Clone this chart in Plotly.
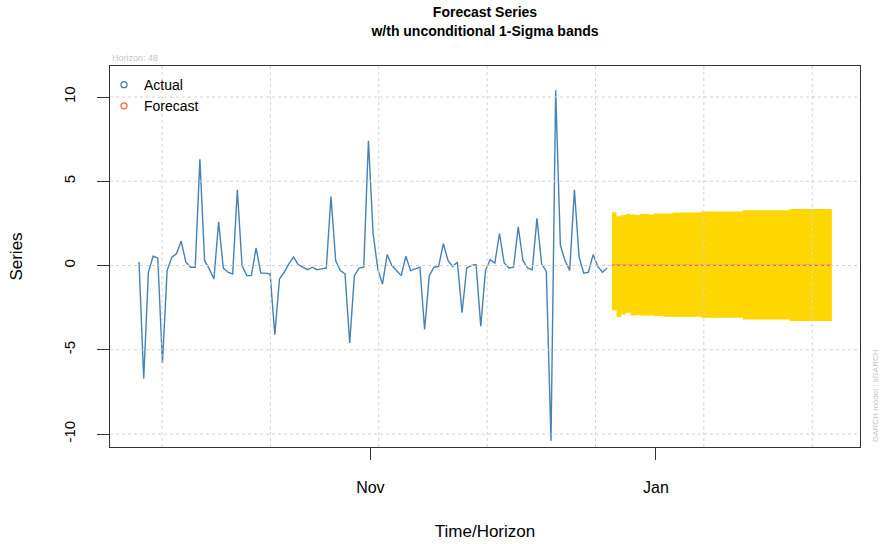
import pandas as pd
import plotly.graph_objects as go

# ---------------- data ----------------
actual_start = "2019-09-12 14:00"
actual_values = [
    0.2, -6.7, -0.4, 0.55, 0.45, -5.8, -0.3, 0.5, 0.7, 1.45,
    0.2, -0.1, -0.1, 6.3, 0.3, -0.2, -0.8, 2.6, -0.15, -0.4,
    -0.5, 4.5, 0.0, -0.6, -0.6, 1.05, -0.45, -0.45, -0.5, -4.1,
    -0.8, -0.4, 0.1, 0.5, 0.05, -0.1, -0.25, -0.1, -0.25, -0.2,
    -0.15, 4.1, 0.3, -0.3, -0.5, -4.6, -0.6, -0.15, -0.1, 7.4,
    1.9, -0.2, -1.1, 0.65, 0.0, -0.3, -0.6, 0.55, -0.3, -0.2,
    -0.1, -3.8, -0.6, -0.1, -0.05, 1.3, 0.3, -0.05, 0.2, -2.8,
    -0.15, 0.0, 0.05, -3.6, -0.3, 0.35, 0.15, 1.9, 0.15, -0.15,
    -0.1, 2.3, 0.3, -0.15, -0.25, 2.8, 0.1, -0.35, -10.4, 10.4,
    1.2, 0.3, -0.3, 4.5, 0.5, -0.45, -0.4, 0.65, -0.05, -0.4,
    -0.15,
]
forecast_mean = [
    0.02, 0.01, 0.01, 0.02, 0.01, 0.01, 0.01, 0.01, 0.01, 0.01,
    0.01, 0.01, 0.01, 0.01, 0.01, 0.01, 0.01, 0.01, 0.01, 0.01,
    0.01, 0.01, 0.01, 0.01, 0.01, 0.01, 0.01, 0.01, 0.01, 0.01,
    0.01, 0.01, 0.01, 0.01, 0.01, 0.01, 0.01, 0.01, 0.01, 0.01,
    0.01, 0.01, 0.01, 0.01, 0.01, 0.01, 0.01, 0.01,
]
band_upper = [
    3.16, 2.92, 3.0, 3.06, 3.03, 3.0, 3.06, 3.06, 3.03,
    3.08, 3.08, 3.08, 3.08,
    3.14, 3.14, 3.14, 3.14, 3.14, 3.14,
    3.2, 3.2, 3.2, 3.2, 3.2, 3.2, 3.2, 3.2, 3.2,
    3.28, 3.28, 3.28, 3.28, 3.28, 3.28, 3.28, 3.28, 3.28, 3.28,
    3.36, 3.36, 3.36, 3.36, 3.36, 3.36, 3.36, 3.36, 3.36, 3.36,
]
band_lower = [
    -2.65, -3.06, -2.9, -2.8, -2.97, -2.93,
    -2.97, -2.97, -2.97,
    -3.0, -3.0,
    -3.04, -3.04, -3.04, -3.04, -3.04, -3.04, -3.04, -3.04,
    -3.1, -3.1, -3.1, -3.1, -3.1, -3.1, -3.1, -3.1, -3.1,
    -3.2, -3.2, -3.2, -3.2, -3.2, -3.2, -3.2, -3.2, -3.2, -3.2,
    -3.3, -3.3, -3.3, -3.3, -3.3, -3.3, -3.3, -3.3, -3.3, -3.3,
]
x_tick_dates = ["2019-11-01", "2020-01-01"]
x_tick_labels = ["Nov", "Jan"]
y_tick_values = [-10, -5, 0, 5, 10]
horizon = 48

# ---------------- derived ----------------
actual_dates = pd.date_range(actual_start, periods=len(actual_values), freq="D")
forecast_dates = pd.date_range(actual_dates[-1] + pd.Timedelta(days=1),
                               periods=len(forecast_mean), freq="D")
# R grid(): pretty steps of 2e6 seconds on the POSIXct axis
x_grid = pd.date_range("2019-09-17 11:48", periods=7, freq="2000000s")

FONT = "Liberation Sans, Arial, sans-serif"
GRID = "#D3D3D3"
AXIS = "#333333"

fig = go.Figure()

fig.add_trace(go.Scatter(x=forecast_dates, y=band_lower, mode="lines",
                         line=dict(width=0, shape="hv", color="#FFD700"),
                         showlegend=False, hoverinfo="skip"))
fig.add_trace(go.Scatter(x=forecast_dates, y=band_upper, mode="lines",
                         line=dict(width=0, shape="hv", color="#FFD700"),
                         fill="tonexty", fillcolor="#FFD700",
                         showlegend=False, hoverinfo="skip"))
fig.add_trace(go.Scatter(x=actual_dates, y=actual_values, mode="lines",
                         line=dict(color="steelblue", width=1.4),
                         showlegend=False))
fig.add_trace(go.Scatter(x=forecast_dates, y=forecast_mean, mode="lines",
                         line=dict(color="#FF6347", width=1.2),
                         showlegend=False))
# legend entries (open circles as in base R legend)
fig.add_trace(go.Scatter(x=[None], y=[None], mode="markers", name="Actual",
                         marker=dict(symbol="circle-open", size=6,
                                     color="steelblue", line=dict(width=1.3))))
fig.add_trace(go.Scatter(x=[None], y=[None], mode="markers", name="Forecast",
                         marker=dict(symbol="circle-open", size=6,
                                     color="#FF6347", line=dict(width=1.3))))

shapes = []
for d in x_grid:
    shapes.append(dict(type="line", xref="x", yref="paper", x0=d, x1=d,
                       y0=0, y1=1, layer="above",
                       line=dict(color=GRID, width=1, dash="dot")))
for v in y_tick_values:
    shapes.append(dict(type="line", xref="paper", yref="y", x0=0, x1=1,
                       y0=v, y1=v, layer="above",
                       line=dict(color=GRID, width=1, dash="dot")))

fig.update_layout(
    width=882, height=544,
    margin=dict(l=110, r=22, t=66, b=97),
    paper_bgcolor="white", plot_bgcolor="white",
    font=dict(family=FONT, color="black"),
    title=dict(text="<b>Forecast Series</b><br><b>w/th unconditional 1-Sigma bands</b>",
               x=0.5, xref="paper", xanchor="center",
               y=0.968, yref="container", yanchor="top",
               font=dict(size=14, family=FONT, color="black")),
    shapes=shapes,
    showlegend=True,
    legend=dict(x=-0.008, y=0.992, xanchor="left", yanchor="top",
                bgcolor="rgba(0,0,0,0)", font=dict(size=14, family=FONT),
                traceorder="normal", itemwidth=30, tracegroupgap=0),
    annotations=[
        dict(text=f"Horizon: {horizon}", xref="paper", yref="paper",
             x=0, y=1, xanchor="left", yanchor="bottom", yshift=1,
             showarrow=False, font=dict(size=9, color="#C4C4C4", family=FONT)),
        dict(text="GARCH model : sGARCH", xref="paper", yref="paper",
             x=1.0213, y=0.1365, xanchor="center", yanchor="middle",
             textangle=-90, showarrow=False,
             font=dict(size=8, color="#C4C4C4", family=FONT)),
    ],
)

fig.update_xaxes(
    type="date", range=["2019-09-06 09:07", "2020-02-13 14:10"],
    automargin=False,
    tickmode="array", tickvals=x_tick_dates, ticktext=x_tick_labels,
    ticks="outside", ticklen=12, tickwidth=1, tickcolor=AXIS,
    showline=True, linecolor=AXIS, linewidth=1, mirror=True,
    showgrid=False, zeroline=False,
    tickfont=dict(size=16, family=FONT, color="black"),
    ticklabelstandoff=14,
    title=dict(text="Time/Horizon", font=dict(size=17, family=FONT), standoff=29),
)
fig.update_yaxes(
    range=[-10.77, 11.84],
    automargin=False,
    tickmode="array", tickvals=y_tick_values,
    ticktext=[str(v) for v in y_tick_values],
    tickangle=-90,
    ticks="outside", ticklen=12, tickwidth=1, tickcolor=AXIS,
    showline=True, linecolor=AXIS, linewidth=1, mirror=True,
    showgrid=False, zeroline=False,
    tickfont=dict(size=15, family=FONT, color="black"),
    ticklabelstandoff=16,
    title=dict(text="Series", font=dict(size=17, family=FONT), standoff=34),
)

fig.write_html("out.html", config={"displayModeBar": False},
               post_script="document.body.style.margin='0';")
